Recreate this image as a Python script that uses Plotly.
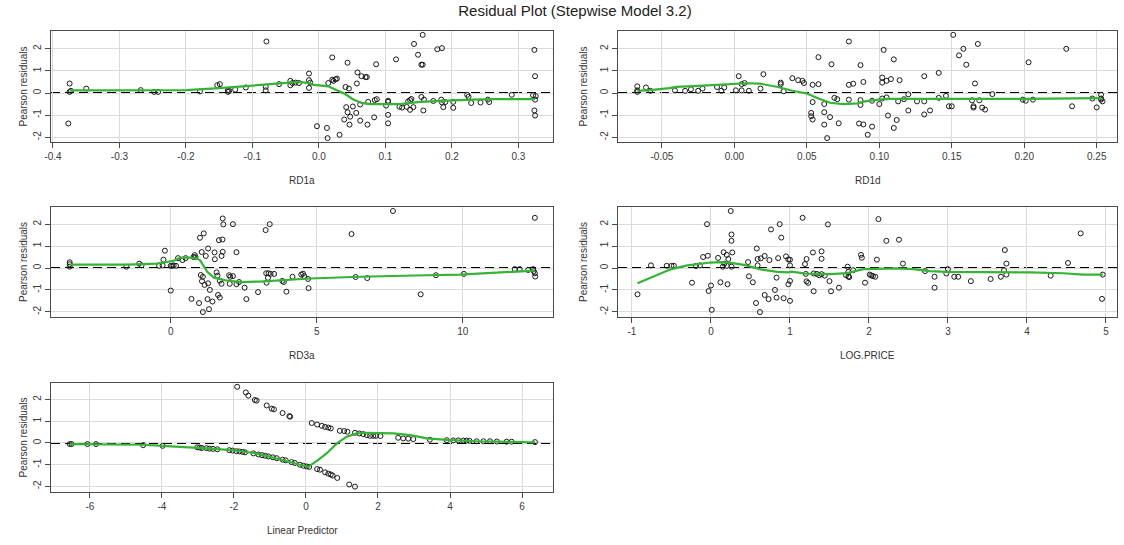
import plotly.graph_objects as go

# ---------------- data ----------------
# RD1a
rd1a_x = [-0.375, -0.375, -0.373, -0.377, -0.350, -0.268, -0.248, -0.242, -0.179, -0.153,
          -0.149, -0.137, -0.137, -0.135, -0.126, -0.110, -0.079, -0.080, -0.080, -0.060,
          -0.043, -0.043, -0.040, -0.035, -0.030, -0.015, -0.015, -0.013, -0.015, -0.003,
          0.012, 0.013, 0.031, 0.014, 0.020, 0.022, 0.025, 0.027, 0.020, 0.043,
          0.040, 0.045, 0.041, 0.043, 0.047, 0.038, 0.046, 0.051, 0.057, 0.058,
          0.062, 0.062, 0.064, 0.070, 0.072, 0.073, 0.074, 0.056, 0.083, 0.084,
          0.087, 0.086, 0.104, 0.104, 0.104, 0.104, 0.101, 0.116, 0.121, 0.125,
          0.132, 0.134, 0.137, 0.139, 0.137, 0.142, 0.143, 0.149, 0.156, 0.154,
          0.156, 0.154, 0.158, 0.157, 0.172, 0.178, 0.185, 0.184, 0.185, 0.190,
          0.187, 0.202, 0.202, 0.223, 0.225, 0.229, 0.243, 0.254, 0.256, 0.290,
          0.324, 0.325, 0.325, 0.324, 0.325, 0.322, 0.326]
rd1a_res = [0.43, 0.05, 0.10, -1.38, 0.20, 0.13, 0.05, 0.05, 0.07, 0.35,
            0.40, 0.12, 0.05, 0.10, 0.15, 0.25, 2.33, 0.28, 0.12, 0.40,
            0.55, 0.35, 0.45, 0.47, 0.45, 0.88, 0.58, 0.47, 0.23, -1.50,
            -1.58, -2.04, -1.89, 0.45, 0.60, 0.55, 0.62, 0.65, 1.61, 1.37,
            0.27, 0.20, -0.64, -0.87, -1.07, -1.20, -1.43, -0.61, 0.43, 0.93,
            -0.52, -1.25, 0.76, 0.72, 0.72, -1.43, -0.40, -0.90, -1.10, -0.32,
            -0.28, 1.30, -0.35, -0.40, -0.99, -1.37, -0.57, 1.52, -0.62, -0.66,
            -0.63, -0.38, -0.32, -0.27, -0.76, -0.64, 2.22, 1.73, 2.63, 1.28,
            1.28, -0.18, -0.30, -0.79, -0.36, 1.98, 2.03, -0.30, -0.43, -0.41,
            -0.64, -0.40, -0.67, -0.08, -0.17, -0.45, -0.43, -0.30, -0.41, -0.08,
            1.95, 0.76, -0.30, -0.79, -1.02, -0.10, -0.14]
rd1a_fit_x = [-0.375, -0.30, -0.20, -0.15, -0.10, -0.07, -0.06, -0.043, -0.03, -0.015,
              -0.01, 0.014, 0.024, 0.040, 0.051, 0.064, 0.077, 0.102, 0.122, 0.152,
              0.172, 0.202, 0.232, 0.262, 0.325]
rd1a_fit_y = [0.12, 0.12, 0.13, 0.22, 0.33, 0.42, 0.44, 0.49, 0.50, 0.45,
              0.38, 0.30, 0.15, -0.06, -0.28, -0.45, -0.50, -0.50, -0.50, -0.40,
              -0.36, -0.33, -0.30, -0.28, -0.28]

# RD1d
rd1d_x = [-0.067, -0.067, -0.067, -0.061, -0.058, -0.041, -0.034, -0.030, -0.025, -0.022,
          -0.012, -0.009, -0.007, 0.001, 0.005, 0.003, 0.005, 0.007, 0.010, 0.018,
          0.020, 0.032, 0.032, 0.034, 0.040, 0.044, 0.047, 0.048, 0.054, 0.058,
          0.058, 0.067, 0.054, 0.053, 0.053, 0.054, 0.062, 0.062, 0.062, 0.064,
          0.066, 0.071, 0.069, 0.072, 0.079, 0.079, 0.082, 0.079, 0.087, 0.087,
          0.087, 0.086, 0.089, 0.089, 0.092, 0.095, 0.095, 0.100, 0.102, 0.102,
          0.105, 0.108, 0.103, 0.102, 0.105, 0.106, 0.110, 0.110, 0.112, 0.113,
          0.117, 0.120, 0.114, 0.120, 0.126, 0.131, 0.131, 0.131, 0.135, 0.141,
          0.141, 0.146, 0.148, 0.150, 0.151, 0.155, 0.158, 0.160, 0.166, 0.168,
          0.164, 0.169, 0.165, 0.165, 0.171, 0.173, 0.178, 0.199, 0.201, 0.206,
          0.203, 0.229, 0.233, 0.247, 0.250, 0.253, 0.253, 0.254, 0.253]
rd1d_res = [0.30, 0.12, 0.05, 0.25, 0.10, 0.12, 0.10, 0.17, 0.10, 0.20,
            0.27, 0.10, 0.25, 0.12, 0.12, 0.76, 0.40, 0.45, 0.10, 0.20,
            0.85, 0.47, 0.40, 0.08, 0.67, 0.58, 0.55, 0.45, 0.37, 0.40,
            1.62, 1.30, -0.41, -0.90, -1.05, -1.20, -0.50, -0.87, -1.43, -2.04,
            -1.09, -0.28, -0.22, -1.37, 2.33, 0.37, 0.42, -0.30, 1.26, -0.32,
            -0.54, -1.38, -1.42, 0.50, -1.89, -1.52, -0.35, -0.50, 0.70, 0.47,
            0.55, 0.63, 1.95, -0.25, -0.20, -1.02, 1.52, -1.58, -1.22, -0.38,
            -0.28, -0.06, 0.58, -0.79, -0.38, -0.38, 0.76, -0.97, -0.79, 0.91,
            -0.22, -0.13, -0.60, -0.60, 2.63, 1.70, 2.00, 1.28, 0.43, 2.22,
            -0.33, -0.33, -0.60, -0.66, -0.66, -0.75, -0.05, -0.30, -0.35, -0.30,
            1.39, 2.00, -0.60, -0.25, -0.65, -0.08, -0.30, -0.38, -0.25]
rd1d_fit_x = [-0.067, -0.058, -0.045, -0.040, -0.025, -0.007, 0.008, 0.018, 0.030, 0.040,
              0.050, 0.058, 0.066, 0.075, 0.085, 0.090, 0.095, 0.105, 0.120, 0.145,
              0.180, 0.200, 0.253]
rd1d_fit_y = [0.10, 0.13, 0.22, 0.28, 0.32, 0.38, 0.44, 0.42, 0.27, 0.10,
              -0.02, -0.25, -0.44, -0.50, -0.47, -0.38, -0.33, -0.27, -0.27, -0.25,
              -0.25, -0.27, -0.23]

# RD3a
rd3a_x = [-3.46, -3.46, -3.46, -1.52, -1.08, -1.00, -0.40, -0.28, -0.20, -0.25,
          0.00, 0.05, 0.10, 0.00, 0.18, 0.25, 0.40, 0.51, 0.82, 0.78,
          0.85, 0.71, 0.97, 1.10, 1.31, 1.26, 1.43, 1.00, 1.13, 1.03,
          1.10, 1.07, 1.16, 1.06, 1.20, 1.28, 1.28, 1.34, 1.51, 1.57,
          1.60, 1.62, 1.68, 1.65, 1.77, 1.78, 1.80, 1.78, 1.50, 1.74,
          1.68, 1.74, 2.00, 2.04, 2.13, 2.02, 2.13, 2.25, 2.25, 2.34,
          2.53, 2.59, 2.99, 3.25, 3.39, 3.27, 3.35, 3.42, 3.54, 3.28,
          3.33, 3.82, 3.87, 3.96, 4.17, 4.47, 4.53, 4.57, 4.70, 4.72,
          6.19, 6.33, 6.73, 7.61, 8.56, 9.08, 10.04, 11.78, 11.95, 12.24,
          12.41, 12.43, 12.47, 12.48, 12.47]
rd3a_res = [0.26, 0.17, 0.06, 0.06, 0.20, 0.12, 0.10, 0.12, 0.79, 0.38,
            0.10, 0.10, 0.12, -1.03, 0.10, 0.45, 0.36, 0.45, 0.59, 0.50,
            0.50, -1.41, -1.60, -2.01, -1.88, -1.42, -1.53, 1.38, 1.58, -0.32,
            -0.40, -0.60, -0.77, 0.73, 0.55, 0.89, -0.70, -1.00, 0.40, -0.20,
            -0.35, -1.23, -1.35, 1.27, 1.30, 2.26, 1.99, 0.74, 0.71, 0.55,
            -0.58, -0.72, -0.33, -0.40, -0.37, -0.72, 2.00, 0.72, -0.74, -0.64,
            -0.90, -1.42, -1.10, 1.73, 2.00, -0.24, -0.24, -0.27, -0.27, -0.67,
            -0.45, -0.59, -0.64, -1.08, -0.40, -0.30, -0.26, -0.37, -0.50, -0.92,
            1.55, -0.41, -0.46, 2.60, -1.20, -0.33, -0.27, -0.05, -0.05, -0.09,
            -0.05, -0.14, -0.24, -0.39, 2.29]
rd3a_fit_x = [-3.46, -1.46, -0.49, 0.10, 0.33, 0.67, 0.90, 1.00, 1.25, 1.48,
              1.95, 2.40, 3.05, 3.62, 4.19, 4.76, 6.47, 8.18, 8.75, 9.90,
              11.04, 12.47]
rd3a_fit_y = [0.15, 0.15, 0.20, 0.33, 0.47, 0.48, 0.42, 0.36, -0.17, -0.44,
              -0.58, -0.64, -0.62, -0.57, -0.50, -0.48, -0.40, -0.37, -0.33, -0.30,
              -0.22, -0.12]

# LOG.PRICE
price_x = [-0.93, -0.76, -0.56, -0.50, -0.47, -0.24, -0.19, -0.14, -0.05, -0.10,
           -0.04, -0.03, 0.00, 0.01, 0.09, 0.12, 0.16, 0.20, 0.15, 0.17,
           0.20, 0.21, 0.22, 0.25, 0.26, 0.26, 0.27, 0.26, 0.47, 0.48,
           0.53, 0.57, 0.58, 0.59, 0.63, 0.59, 0.62, 0.68, 0.68, 0.73,
           0.74, 0.76, 0.81, 0.83, 0.83, 0.85, 0.87, 0.89, 0.92, 1.00,
           0.98, 1.00, 0.95, 0.98, 1.00, 1.00, 1.16, 1.19, 1.21, 1.20,
           1.21, 1.23, 1.29, 1.30, 1.30, 1.34, 1.37, 1.40, 1.44, 1.40,
           1.40, 1.48, 1.50, 1.52, 1.62, 1.73, 1.74, 1.74, 1.75, 1.71,
           1.80, 1.90, 1.91, 1.95, 2.01, 2.03, 2.05, 2.08, 2.10, 2.12,
           2.22, 2.38, 2.43, 2.71, 2.83, 2.83, 2.98, 3.00, 3.08, 3.13,
           3.29, 3.54, 3.67, 3.72, 3.74, 3.74, 3.71, 4.30, 4.52, 4.68,
           4.96, 4.95]
price_res = [-1.20, 0.12, 0.10, 0.10, 0.10, -0.67, 0.09, 0.12, 2.00, 0.50,
             0.56, -1.05, -0.80, -1.91, 0.46, -0.65, 0.72, 0.60, 0.06, 0.20,
             0.10, -0.74, 0.41, 2.60, 1.53, 1.24, 0.71, 0.06, 0.27, -0.38,
             -0.65, -1.60, 0.89, 0.41, 0.44, 0.12, -2.01, 0.55, -1.23, -1.42,
             0.36, 1.76, -1.00, -1.35, -0.44, 0.45, 2.00, 1.39, -1.38, -1.50,
             -0.74, -0.59, 0.53, 0.39, 0.38, 0.12, 2.29, 0.18, 0.41, -0.27,
             -0.61, -0.68, 0.71, -1.06, -0.25, -0.27, -0.33, -0.28, -0.35, 0.76,
             0.42, 1.99, -0.60, -1.06, -0.90, 0.06, -0.18, -0.38, -0.42, -0.33,
             -0.10, 0.60, 0.47, -0.67, -0.30, -0.34, -0.37, -0.40, 0.38, 2.23,
             1.24, 1.29, 0.20, -0.14, -0.90, -0.40, -0.25, -0.05, -0.40, -0.40,
             -0.60, -0.50, -0.40, 0.82, 0.20, -0.30, -0.10, -0.35, 0.23, 1.58,
             -0.30, -1.41]
price_fit_x = [-0.93, -0.73, -0.51, -0.30, -0.14, -0.01, 0.12, 0.25, 0.42, 0.63,
               0.84, 0.98, 1.02, 1.20, 1.51, 1.72, 1.93, 2.14, 2.35, 2.56,
               2.77, 2.98, 3.41, 3.70, 4.04, 4.46, 4.71, 4.96]
price_fit_y = [-0.70, -0.40, -0.06, 0.12, 0.20, 0.25, 0.27, 0.23, 0.14, -0.06,
               -0.18, -0.20, -0.17, -0.26, -0.28, -0.23, -0.05, -0.02, -0.02, -0.05,
               -0.14, -0.18, -0.18, -0.17, -0.20, -0.24, -0.30, -0.30]

# Linear predictor
lp_x = [-1.91, -1.67, -1.60, -1.42, -1.37, -1.09, -0.95, -0.89, -0.65, -0.46,
        -0.44, 0.16, 0.31, 0.44, 0.53, 0.62, 0.69, 0.94, 1.06, 1.15,
        1.36, 1.48, 1.59, 1.69, 1.78, 1.87, 1.94, 2.07, 2.56, 2.70,
        2.84, 2.98, 3.44, 3.91, 4.09, 4.23, 4.37, 4.46, 4.54, 4.74,
        4.93, 5.11, 5.30, 5.57, 5.71, 6.36,
        -6.56, -6.51, -6.07, -5.83, -4.52, -3.98, -3.02, -2.95, -2.89, -2.76,
        -2.68, -2.58, -2.46, -2.13, -2.04, -1.93, -1.85, -1.76, -1.69, -1.46,
        -1.32, -1.22, -1.13, -1.04, -0.92, -0.81, -0.65, -0.56, -0.40, -0.31,
        -0.17, -0.07, 0.02, 0.09, 0.31, 0.39, 0.53, 0.62, 0.69, 0.74,
        0.87, 1.20, 1.36]
lp_res = [2.59, 2.33, 2.18, 1.98, 1.95, 1.73, 1.58, 1.55, 1.38, 1.24,
          1.21, 0.92, 0.85, 0.79, 0.74, 0.71, 0.67, 0.56, 0.55, 0.52,
          0.47, 0.44, 0.41, 0.36, 0.33, 0.33, 0.33, 0.32, 0.24, 0.21,
          0.20, 0.18, 0.15, 0.13, 0.12, 0.12, 0.11, 0.11, 0.10, 0.08,
          0.08, 0.08, 0.07, 0.06, 0.06, 0.04,
          -0.05, -0.05, -0.05, -0.05, -0.10, -0.13, -0.20, -0.21, -0.23, -0.24,
          -0.26, -0.27, -0.29, -0.33, -0.35, -0.38, -0.39, -0.41, -0.43, -0.48,
          -0.53, -0.56, -0.59, -0.62, -0.66, -0.70, -0.77, -0.80, -0.88, -0.92,
          -1.00, -1.05, -1.08, -1.10, -1.20, -1.23, -1.35, -1.41, -1.45, -1.50,
          -1.61, -1.91, -2.01]
lp_fit_x = [-6.56, -5.72, -4.52, -3.98, -3.33, -2.78, -2.04, -1.49, -1.12, -0.72,
            -0.35, 0.02, 0.06, 0.35, 0.58, 0.86, 1.13, 1.41, 1.69, 2.43,
            2.90, 3.36, 3.91, 4.74, 5.67, 6.36]
lp_fit_y = [-0.05, -0.05, -0.08, -0.13, -0.18, -0.25, -0.33, -0.45, -0.58, -0.74,
            -0.92, -1.08, -1.10, -0.77, -0.47, -0.02, 0.29, 0.44, 0.47, 0.44,
            0.36, 0.21, 0.14, 0.08, 0.05, 0.03]

# tick labels
res_ticks = [-2, -1, 0, 1, 2]
rd1a_ticks = [-0.4, -0.3, -0.2, -0.1, 0.0, 0.1, 0.2, 0.3]
rd1a_labels = ["-0.4", "-0.3", "-0.2", "-0.1", "0.0", "0.1", "0.2", "0.3"]
rd1d_ticks = [-0.05, 0.0, 0.05, 0.10, 0.15, 0.20, 0.25]
rd1d_labels = ["-0.05", "0.00", "0.05", "0.10", "0.15", "0.20", "0.25"]
rd3a_ticks = [0, 5, 10]
price_ticks = [-1, 0, 1, 2, 3, 4, 5]
lp_ticks = [-6, -4, -2, 0, 2, 4, 6]

# ---------------- figure ----------------
W, H = 1124, 545
FONT = "Liberation Sans, Arial, sans-serif"
BOX = "#4a4a4a"
GRID = "#dadada"
GREEN = "#35b335"

panels = [
    # x data, y data, fit x, fit y, x title, x ticks, x labels,
    # px box (l, r, t, b), x range, y range
    (rd1a_x, rd1a_res, rd1a_fit_x, rd1a_fit_y, "RD1a", rd1a_ticks, rd1a_labels,
     (51, 553, 31, 142), [-0.403, 0.352], [-2.216, 2.804]),
    (rd1d_x, rd1d_res, rd1d_fit_x, rd1d_fit_y, "RD1d", rd1d_ticks, rd1d_labels,
     (618, 1117, 31, 142), [-0.0803, 0.264], [-2.216, 2.804]),
    (rd3a_x, rd3a_res, rd3a_fit_x, rd3a_fit_y, "RD3a", rd3a_ticks,
     [str(v) for v in rd3a_ticks], (51, 553, 207, 317), [-4.10, 13.09], [-2.236, 2.784]),
    (price_x, price_res, price_fit_x, price_fit_y, "LOG.PRICE", price_ticks,
     [str(v) for v in price_ticks], (618, 1117, 207, 317), [-1.177, 5.14], [-2.236, 2.784]),
    (lp_x, lp_res, lp_fit_x, lp_fit_y, "Linear Predictor", lp_ticks,
     [str(v) for v in lp_ticks], (51, 553, 383, 492), [-7.08, 6.86], [-2.257, 2.763]),
]

fig = go.Figure()
layout = dict(template="none", width=W, height=H, autosize=False,
              margin=dict(l=0, r=0, t=0, b=0, pad=0),
              paper_bgcolor="white", plot_bgcolor="white",
              showlegend=False, font=dict(family=FONT, color="#333"))
shapes = []
annotations = []

tickfont = dict(family=FONT, size=10, color="#3a3a3a")

for i, (xs, ys, fx, fy, xtitle, xt, xl, box, xr, yr) in enumerate(panels, start=1):
    sfx = "" if i == 1 else str(i)
    xa, ya = "x" + sfx, "y" + sfx
    l, r, t, b = box
    common = dict(showline=True, mirror=True, linecolor=BOX, linewidth=1,
                  ticks="outside", ticklen=5, tickwidth=1, tickcolor=BOX,
                  showgrid=True, gridcolor=GRID, gridwidth=1, zeroline=False,
                  automargin=False, tickfont=tickfont)
    layout["xaxis" + sfx] = dict(common, domain=[l / W, r / W], anchor=ya,
                                 range=xr, tickmode="array", tickvals=xt, ticktext=xl)
    layout["yaxis" + sfx] = dict(common, domain=[1 - b / H, 1 - t / H], anchor=xa,
                                 range=yr, tickmode="array",
                                 tickvals=res_ticks,
                                 ticktext=[str(v) for v in res_ticks],
                                 tickangle=-90)

    fig.add_trace(go.Scatter(
        x=xs, y=ys, mode="markers", xaxis=xa, yaxis=ya,
        marker=dict(symbol="circle-open", size=5, color="#1a1a1a",
                    line=dict(width=1, color="#1a1a1a")),
        hoverinfo="x+y"))
    fig.add_trace(go.Scatter(
        x=fx, y=fy, mode="lines", xaxis=xa, yaxis=ya,
        line=dict(color=GREEN, width=2.2)))

    # horizontal reference at zero residual
    shapes.append(dict(type="line", xref=xa, yref=ya,
                       x0=xr[0], x1=xr[1], y0=0, y1=0, layer="below",
                       line=dict(color="black", width=2, dash="9px,5px")))

    # axis titles
    ytitle_x = 23 if l < 100 else 583
    annotations.append(dict(text="Pearson residuals", xref="paper", yref="paper",
                            x=ytitle_x / W, y=1 - ((t + b) / 2) / H,
                            xanchor="center", yanchor="middle", textangle=-90,
                            showarrow=False,
                            font=dict(family=FONT, size=10, color="#333")))
    annotations.append(dict(text=xtitle, xref="paper", yref="paper",
                            x=((l + r) / 2) / W, y=1 - (b + 38) / H,
                            xanchor="center", yanchor="middle", showarrow=False,
                            font=dict(family=FONT, size=10, color="#333")))

layout["shapes"] = shapes
layout["annotations"] = annotations
layout["title"] = dict(text="Residual Plot (Stepwise Model 3.2)",
                       x=575 / W, xanchor="center", y=1 - 11 / H, yanchor="middle",
                       automargin=False,
                       font=dict(family=FONT, size=15, color="#222"))
fig.update_layout(**layout)

fig.write_html("out.html")
